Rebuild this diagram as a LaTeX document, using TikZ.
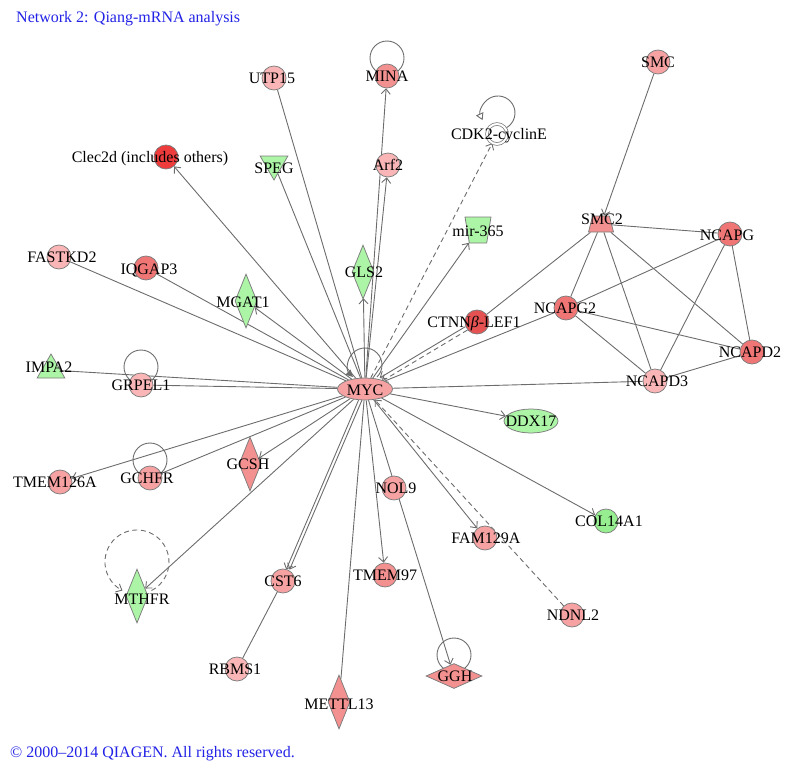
\documentclass[tikz,border=0pt]{standalone}
\usepackage{fontspec}
\setmainfont{Liberation Serif}
\usetikzlibrary{shapes.geometric,arrows.meta,backgrounds}

\definecolor{pinkA}{HTML}{FAB6B6}
\definecolor{pinkB}{HTML}{F6A2A2}
\definecolor{pinkC}{HTML}{F39090}
\definecolor{pinkD}{HTML}{F07676}
\definecolor{redE}{HTML}{E65252}
\definecolor{redF}{HTML}{EE3C3C}
\definecolor{greenA}{HTML}{ACF5A6}
\definecolor{greenB}{HTML}{96EE90}
\definecolor{edgegray}{HTML}{6C6C6C}
\definecolor{bordergray}{HTML}{7C7C7C}
\definecolor{titleblue}{HTML}{2222E6}

\tikzset{
	shp/.style={draw=bordergray, line width=0.75pt, inner sep=0pt},
	circ/.style={shp, circle, minimum size=24pt},
	dia/.style={shp, diamond, minimum width=22pt, minimum height=54pt},
	hdia/.style={shp, diamond, minimum width=56pt, minimum height=25pt},
	tri/.style={shp, regular polygon, regular polygon sides=3, minimum size=32pt},
	trap/.style={shp, inner sep=1pt, trapezium, trapezium stretches=true, trapezium left angle=76, trapezium right angle=76},
	lbl/.style={font=\fontsize{16}{18}\selectfont, inner sep=0pt, text height=10.6pt, text depth=0pt},
	rel/.style={draw=edgegray, line width=0.9pt},
	act/.style={rel, -{Straight Barb[length=5pt,width=9pt]}},
	dsh/.style={dash pattern=on 5pt off 3.5pt},
	selfloop/.style={draw=edgegray, line width=0.9pt}
}

\begin{document}
\begin{tikzpicture}[x=1pt, y=-1pt]
		\useasboundingbox (0,0) rectangle (792,771);
		\node[shp, ellipse, fill=pinkB, minimum width=55pt, minimum height=22pt] (myc) at (365,389) {};
		\node[circ, fill=pinkA] (utp) at (274,78) {};
		\node[circ, fill=pinkC] (mina) at (387,76) {};
		\node[circ, fill=pinkB] (smc) at (658,62) {};
		\node[circ, fill=redF] (clec) at (166,157) {};
		\node[circ, fill=pinkA] (arf) at (388,165) {};
		\node[shp, circle, minimum size=20pt, double, double distance=2pt] (cdk) at (497,134) {};
		\node[tri, fill=greenA, shape border rotate=180] (speg) at (274,164) {};
		\node[trap, fill=greenA, shape border rotate=180, minimum width=26pt, minimum height=26pt] (mir) at (478,230) {};
		\node[trap, fill=pinkC, minimum width=25pt, minimum height=16pt] (smctwo) at (601,224) {};
		\node[circ, fill=pinkD] (ncapg) at (730,234) {};
		\node[circ, fill=pinkA] (fast) at (59,257) {};
		\node[circ, fill=pinkD] (iqg) at (146,268) {};
		\node[dia, fill=greenA] (mgat) at (246,301) {};
		\node[dia, fill=greenA] (gls) at (363,272) {};
		\node[circ, fill=redE] (ctnn) at (477,322) {};
		\node[circ, fill=pinkD] (ncapgtwo) at (566,308) {};
		\node[circ, fill=pinkD] (ncapdtwo) at (752,352) {};
		\node[circ, fill=pinkA] (ncapdthree) at (655,381) {};
		\node[tri, fill=greenA] (impa) at (51,370) {};
		\node[circ, fill=pinkA] (grpel) at (141,385) {};
		\node[shp, ellipse, fill=greenA, minimum width=54pt, minimum height=24pt] (ddx) at (531,421) {};
		\node[circ, fill=pinkB] (tmema) at (60,482) {};
		\node[circ, fill=pinkB] (gchfr) at (150,478) {};
		\node[dia, fill=pinkC] (gcsh) at (250,464) {};
		\node[circ, fill=pinkB] (nol) at (394,488) {};
		\node[circ, fill=greenB] (col) at (606,521) {};
		\node[circ, fill=pinkB] (fam) at (485,538) {};
		\node[circ, fill=pinkC] (tmemb) at (385,575) {};
		\node[circ, fill=pinkB] (cst) at (283,581) {};
		\node[circ, fill=pinkB] (ndnl) at (572,615) {};
		\node[dia, fill=greenA] (mthfr) at (137,596) {};
		\node[circ, fill=pinkA] (rbms) at (237,669) {};
		\node[dia, fill=pinkC] (mettl) at (339,702) {};
		\node[hdia, fill=pinkC] (ggh) at (454,676) {};

		\foreach \nm/\lab/\dx/\dy in {myc/MYC/0/1, utp/UTP15/-2/0, mina/MINA/0/0, smc/SMC/0/0,
			clec/Clec2d (includes others)/-16/0, arf/Arf2/0/0, cdk/CDK2-cyclinE/2/0, speg/SPEG/0/4,
			mir/mir-365/0/1, smctwo/SMC2/1/-5, ncapg/NCAPG/-3/1, fast/FASTKD2/3/0, iqg/IQGAP3/3/1,
			mgat/MGAT1/-3/1, gls/GLS2/1/0, ctnn/CTNN\textit{β}-LEF1/-3/0, ncapgtwo/NCAPG2/-1/0,
			ncapdtwo/NCAPD2/-2/0, ncapdthree/NCAPD3/2/0, impa/IMPA2/-2/-3, grpel/GRPEL1/0/0,
			ddx/DDX17/0/0, tmema/TMEM126A/-5/0, gchfr/GCHFR/-3/0, gcsh/GCSH/-2/0, nol/NOL9/2/0,
			col/COL14A1/3/0, fam/FAM129A/1/0, tmemb/TMEM97/0/0, cst/CST6/0/0, ndnl/NDNL2/1/0,
			mthfr/MTHFR/5/3, rbms/RBMS1/-2/0, mettl/METTL13/0/2, ggh/GGH/1/0}
			\node[lbl] (\nm-t) at ([shift={(\dx,\dy)}]\nm.center) {\lab};

		\node[lbl, anchor=base west, text=titleblue] (title) at (16,22) {Network 2: Qiang-mRNA analysis};
		\node[lbl, anchor=base west, text=titleblue] (copyright) at (10,757) {© 2000–2014 QIAGEN. All rights reserved.};

		\begin{scope}[on background layer]
			\path[act]
			(myc) edge (clec)
			edge (mina)
			edge (arf)
			edge (mir)
			edge (mgat)
			edge (gls)
			edge (ddx)
			edge (tmema)
			edge (gcsh)
			edge (mthfr)
			edge[transform canvas={xshift=-1.7pt}] (cst)
			edge[transform canvas={xshift=1.7pt}] (cst)
			edge (tmemb)
			edge (ggh)
			edge (fam)
			edge (col)
			edge[dsh] (cdk)
			(ctnn) edge[transform canvas={shift={(-1pt,1.7pt)}}] (myc)
			edge[dsh, transform canvas={shift={(1pt,-1.7pt)}}] (myc)
			(ndnl) edge[dsh] (myc)
			(smc) edge (smctwo);
			\path[rel]
			(myc) edge (utp)
			edge (speg)
			edge (fast)
			edge (iqg)
			edge (impa)
			edge (grpel)
			edge (gchfr)
			edge (mettl)
			edge (ncapgtwo)
			edge (ncapdthree)
			(cst) edge (rbms)
			(smctwo) edge (ncapg)
			edge (ncapgtwo)
			edge (ncapdthree)
			edge (ncapdtwo)
			edge (ctnn)
			(ncapg) edge (ncapgtwo)
			edge (ncapdthree)
			edge (ncapdtwo)
			(ncapgtwo) edge (ncapdtwo)
			edge (ncapdthree)
			(ncapdthree) edge (ncapdtwo);

			\draw[selfloop] ([yshift=18pt]mina.center) circle[radius=17pt];
			\draw[selfloop] ([yshift=18pt]grpel.center) circle[radius=17pt];
			\draw[selfloop] ([yshift=18pt]gchfr.center) circle[radius=17pt];
			\draw[selfloop] ([yshift=21pt]ggh.center) circle[radius=17pt];
			\draw[selfloop, -{Triangle[length=7pt,width=7pt]}] ([shift={(12pt,12pt)}]myc.center) arc[start angle=-45, end angle=225, radius=17pt];
			\draw[selfloop, -{Triangle[open,length=7pt,width=8pt]}] ([shift={(9.5pt,6.3pt)}]cdk.center) arc[start angle=-60, end angle=205, radius=17pt];
			\draw[selfloop, dsh, -{Straight Barb[length=5pt,width=9pt]}] ([shift={(14.5pt,5.5pt)}]mthfr.center) arc[start angle=-63, end angle=243, radius=32pt];
		\end{scope}
\end{tikzpicture}
\end{document}
